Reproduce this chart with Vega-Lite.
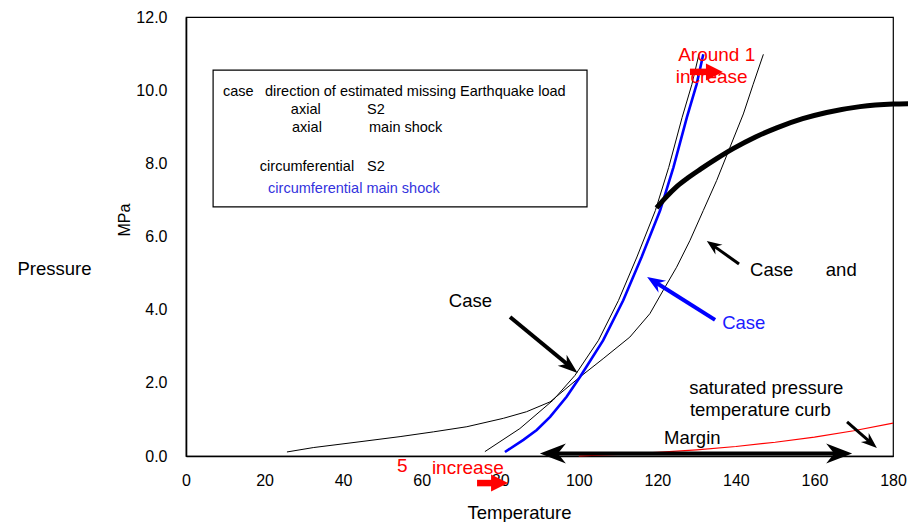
{
  "$schema": "https://vega.github.io/schema/vega-lite/v6.json",
  "width": 707,
  "height": 439,
  "autosize": "none",
  "padding": {"left": 186, "top": 17, "right": 15, "bottom": 66},
  "background": "white",
  "config": {
    "view": {"stroke": "#000", "strokeWidth": 1.2},
    "font": "Liberation Sans",
    "axis": {
      "labelFont": "Liberation Sans", "labelFontSize": 16, "labelColor": "#000",
      "titleFont": "Liberation Sans", "titleFontSize": 18.5, "titleFontWeight": "normal", "titleColor": "#000",
      "ticks": false, "grid": false, "domainColor": "#000", "domainWidth": 1.6
    }
  },
  "datasets": {
    "curves": [
      {"series": "A", "T": 25.7, "P": 0.11}, {"series": "A", "T": 32.4, "P": 0.23}, {"series": "A", "T": 44.3, "P": 0.39},
      {"series": "A", "T": 54.5, "P": 0.53}, {"series": "A", "T": 63.0, "P": 0.66}, {"series": "A", "T": 71.5, "P": 0.80},
      {"series": "A", "T": 80.8, "P": 1.03}, {"series": "A", "T": 86.7, "P": 1.21}, {"series": "A", "T": 92.7, "P": 1.48},
      {"series": "A", "T": 100.3, "P": 2.16}, {"series": "A", "T": 106.2, "P": 2.66}, {"series": "A", "T": 113.0, "P": 3.25},
      {"series": "A", "T": 118.1, "P": 3.89}, {"series": "A", "T": 121.5, "P": 4.53}, {"series": "A", "T": 124.9, "P": 5.16},
      {"series": "A", "T": 128.3, "P": 5.89}, {"series": "A", "T": 131.7, "P": 6.71}, {"series": "A", "T": 135.1, "P": 7.53},
      {"series": "A", "T": 138.5, "P": 8.44}, {"series": "A", "T": 141.9, "P": 9.35}, {"series": "A", "T": 144.4, "P": 10.16},
      {"series": "A", "T": 147.0, "P": 10.98},
      {"series": "B", "T": 76.1, "P": 0.12}, {"series": "B", "T": 85.0, "P": 0.75}, {"series": "B", "T": 93.5, "P": 1.53},
      {"series": "B", "T": 99.0, "P": 2.20}, {"series": "B", "T": 105.0, "P": 3.16}, {"series": "B", "T": 110.1, "P": 4.25},
      {"series": "B", "T": 114.8, "P": 5.44}, {"series": "B", "T": 119.5, "P": 6.71}, {"series": "B", "T": 122.9, "P": 7.89},
      {"series": "B", "T": 126.3, "P": 9.25}, {"series": "B", "T": 128.8, "P": 10.16}, {"series": "B", "T": 130.6, "P": 10.98},
      {"series": "blue", "T": 81.2, "P": 0.11}, {"series": "blue", "T": 85.9, "P": 0.44}, {"series": "blue", "T": 89.3, "P": 0.71},
      {"series": "blue", "T": 92.7, "P": 1.07}, {"series": "blue", "T": 96.9, "P": 1.62}, {"series": "blue", "T": 100.3, "P": 2.16},
      {"series": "blue", "T": 106.2, "P": 3.16}, {"series": "blue", "T": 111.3, "P": 4.25}, {"series": "blue", "T": 116.0, "P": 5.44},
      {"series": "blue", "T": 120.7, "P": 6.71}, {"series": "blue", "T": 124.1, "P": 7.89}, {"series": "blue", "T": 127.5, "P": 9.25},
      {"series": "blue", "T": 130.0, "P": 10.16}, {"series": "blue", "T": 131.7, "P": 10.98},
      {"series": "thick", "T": 119.8, "P": 6.78}, {"series": "thick", "T": 122.0, "P": 7.05}, {"series": "thick", "T": 125.0, "P": 7.37},
      {"series": "thick", "T": 128.0, "P": 7.62}, {"series": "thick", "T": 131.0, "P": 7.84}, {"series": "thick", "T": 135.0, "P": 8.12},
      {"series": "thick", "T": 139.3, "P": 8.40}, {"series": "thick", "T": 145.0, "P": 8.72}, {"series": "thick", "T": 150.4, "P": 8.97},
      {"series": "thick", "T": 157.0, "P": 9.22}, {"series": "thick", "T": 163.1, "P": 9.39}, {"series": "thick", "T": 171.6, "P": 9.55},
      {"series": "thick", "T": 180.0, "P": 9.62}, {"series": "thick", "T": 184.5, "P": 9.63},
      {"series": "sat", "T": 100, "P": 0.0}, {"series": "sat", "T": 105, "P": 0.02}, {"series": "sat", "T": 110, "P": 0.043},
      {"series": "sat", "T": 120, "P": 0.099}, {"series": "sat", "T": 130, "P": 0.17}, {"series": "sat", "T": 140, "P": 0.26},
      {"series": "sat", "T": 150, "P": 0.376}, {"series": "sat", "T": 160, "P": 0.517}, {"series": "sat", "T": 170, "P": 0.69},
      {"series": "sat", "T": 180, "P": 0.90}
    ],
    "shafts": [
      {"id": "caseA", "x": 82.5, "y": 3.80, "x2": 97.4, "y2": 2.48},
      {"id": "caseB", "x": 134.7, "y": 3.72, "x2": 119.5, "y2": 4.75},
      {"id": "caseC", "x": 140.8, "y": 5.25, "x2": 134.5, "y2": 5.73},
      {"id": "sat", "x": 168.3, "y": 0.93, "x2": 174.2, "y2": 0.38},
      {"id": "margin", "x": 94.1, "y": 0.07, "x2": 165.6, "y2": 0.07},
      {"id": "redTop", "x": 128.3, "y": 10.50, "x2": 133.7, "y2": 10.50},
      {"id": "redBot", "x": 74.1, "y": -0.74, "x2": 79.4, "y2": -0.74}
    ],
    "heads": [
      {"id": "caseA", "x": 99.7, "y": 2.27},
      {"id": "caseB", "x": 117.4, "y": 4.89},
      {"id": "caseC", "x": 132.6, "y": 5.88},
      {"id": "sat", "x": 175.9, "y": 0.22},
      {"id": "marginL", "x": 90.1, "y": 0.07},
      {"id": "marginR", "x": 169.6, "y": 0.07},
      {"id": "redTop", "x": 136.7, "y": 10.50},
      {"id": "redBot", "x": 82.0, "y": -0.74}
    ]
  },
  "layer": [
    {
      "data": {"values": [{"x": 6.9, "x2": 102.1, "y": 10.55, "y2": 6.81}]},
      "mark": {"type": "rect", "fill": "white", "stroke": "#000", "strokeWidth": 1.2},
      "encoding": {
        "x": {"field": "x", "type": "quantitative", "scale": {"domain": [0, 180], "nice": false, "zero": false},
          "axis": {"values": [0, 20, 40, 60, 80, 100, 120, 140, 160, 180], "labelPadding": 16, "labelFlush": false,
            "title": "Temperature", "titleX": 333, "titleY": 56, "titleAlign": "center", "titleBaseline": "middle"}},
        "x2": {"field": "x2"},
        "y": {"field": "y", "type": "quantitative", "scale": {"domain": [0, 12], "nice": false, "zero": false},
          "axis": {"values": [0, 2, 4, 6, 8, 10, 12], "format": ".1f", "labelPadding": 19, "labelFlush": false,
            "title": "Pressure", "titleAngle": 0, "titleX": -132, "titleY": 251, "titleAlign": "center", "titleBaseline": "middle"}},
        "y2": {"field": "y2"}
      }
    },
    {
      "data": {"name": "curves"},
      "transform": [{"filter": "datum.series === 'sat'"}],
      "mark": {"type": "line", "color": "#ff0000", "strokeWidth": 1.2},
      "encoding": {"x": {"field": "T", "type": "quantitative"}, "y": {"field": "P", "type": "quantitative"}}
    },
    {
      "data": {"name": "curves"},
      "transform": [{"filter": "datum.series === 'A' || datum.series === 'B'"}],
      "mark": {"type": "line", "color": "#000", "strokeWidth": 1},
      "encoding": {"x": {"field": "T", "type": "quantitative"}, "y": {"field": "P", "type": "quantitative"}, "detail": {"field": "series"}}
    },
    {
      "data": {"name": "curves"},
      "transform": [{"filter": "datum.series === 'blue'"}],
      "mark": {"type": "line", "color": "#0000ff", "strokeWidth": 2.6},
      "encoding": {"x": {"field": "T", "type": "quantitative"}, "y": {"field": "P", "type": "quantitative"}}
    },
    {
      "data": {"name": "curves"},
      "transform": [{"filter": "datum.series === 'thick'"}],
      "mark": {"type": "line", "color": "#000", "strokeWidth": 5, "interpolate": "monotone"},
      "encoding": {"x": {"field": "T", "type": "quantitative"}, "y": {"field": "P", "type": "quantitative"}}
    },
    {
      "data": {"name": "shafts"},
      "transform": [{"filter": {"field": "id", "oneOf": ["caseA", "caseB", "margin"]}}],
      "mark": {"type": "rule", "strokeWidth": 4},
      "encoding": {
        "x": {"field": "x", "type": "quantitative"}, "y": {"field": "y", "type": "quantitative"},
        "x2": {"field": "x2"}, "y2": {"field": "y2"},
        "color": {"field": "id", "type": "nominal", "legend": null,
          "scale": {"domain": ["caseA", "caseB", "caseC", "sat", "margin", "marginL", "marginR", "redTop", "redBot"],
            "range": ["#000", "#0000ff", "#000", "#000", "#000", "#000", "#000", "#ff0000", "#ff0000"]}}
      }
    },
    {
      "data": {"name": "shafts"},
      "transform": [{"filter": {"field": "id", "oneOf": ["caseC", "sat"]}}],
      "mark": {"type": "rule", "strokeWidth": 3},
      "encoding": {
        "x": {"field": "x", "type": "quantitative"}, "y": {"field": "y", "type": "quantitative"},
        "x2": {"field": "x2"}, "y2": {"field": "y2"},
        "color": {"field": "id", "type": "nominal", "legend": null}
      }
    },
    {
      "data": {"name": "shafts"},
      "transform": [{"filter": {"field": "id", "oneOf": ["redTop", "redBot"]}}],
      "mark": {"type": "rule", "strokeWidth": 6.5},
      "encoding": {
        "x": {"field": "x", "type": "quantitative"}, "y": {"field": "y", "type": "quantitative"},
        "x2": {"field": "x2"}, "y2": {"field": "y2"},
        "color": {"field": "id", "type": "nominal", "legend": null}
      }
    },
    {
      "data": {"name": "heads"},
      "mark": {"type": "point", "filled": true, "size": 4, "opacity": 1, "strokeWidth": 0},
      "encoding": {
        "x": {"field": "x", "type": "quantitative"}, "y": {"field": "y", "type": "quantitative"},
        "color": {"field": "id", "type": "nominal", "legend": null},
        "shape": {"field": "id", "type": "nominal", "legend": null,
          "scale": {"domain": ["caseA", "caseB", "caseC", "sat", "marginL", "marginR", "redTop", "redBot"],
            "range": [
              "M0,0L-10.98,-18.12L-10.8,-8.91L-19.88,-7.32Z",
              "M0,0L11.47,15.54L10.14,6.41L18.96,3.7Z",
              "M0,0L8.68,13.62L8.12,5.84L15.68,3.88Z",
              "M0,0L-8.16,-15.02L-8.31,-7.2L-16.02,-5.94Z",
              "M0,0L26,-10L18,0L26,10Z",
              "M0,0L-26,-10L-18,0L-26,10Z",
              "M0,0L-17,-8.5L-17,8.5Z",
              "M0,0L-17,-8.5L-17,8.5Z"
            ]}}
      }
    },
    {
      "data": {"values": [
        {"t": "case", "x": 9.4, "y": 9.96},
        {"t": "direction of estimated missing Earthquake load", "x": 20.1, "y": 9.96},
        {"t": "axial", "x": 26.7, "y": 9.46},
        {"t": "S2", "x": 46.1, "y": 9.46},
        {"t": "axial", "x": 27.0, "y": 8.97},
        {"t": "main shock", "x": 46.6, "y": 8.97},
        {"t": "circumferential", "x": 18.8, "y": 7.90},
        {"t": "S2", "x": 46.1, "y": 7.90}
      ]},
      "mark": {"type": "text", "align": "left", "baseline": "middle", "fontSize": 14.5, "font": "Liberation Sans", "color": "#000"},
      "encoding": {"x": {"field": "x", "type": "quantitative"}, "y": {"field": "y", "type": "quantitative"}, "text": {"field": "t"}}
    },
    {
      "data": {"values": [{"t": "circumferential main shock", "x": 20.9, "y": 7.30}]},
      "mark": {"type": "text", "align": "left", "baseline": "middle", "fontSize": 14.5, "font": "Liberation Sans", "color": "#3333dd"},
      "encoding": {"x": {"field": "x", "type": "quantitative"}, "y": {"field": "y", "type": "quantitative"}, "text": {"field": "t"}}
    },
    {
      "data": {"values": [
        {"t": "Case", "x": 66.9, "y": 4.24},
        {"t": "Case", "x": 143.6, "y": 5.08},
        {"t": "and", "x": 162.9, "y": 5.08},
        {"t": "saturated pressure", "x": 128.1, "y": 1.86},
        {"t": "temperature curb", "x": 128.3, "y": 1.26},
        {"t": "Margin", "x": 121.7, "y": 0.49}
      ]},
      "mark": {"type": "text", "align": "left", "baseline": "middle", "fontSize": 18.5, "font": "Liberation Sans", "color": "#000"},
      "encoding": {"x": {"field": "x", "type": "quantitative"}, "y": {"field": "y", "type": "quantitative"}, "text": {"field": "t"}}
    },
    {
      "data": {"values": [{"t": "Case", "x": 136.5, "y": 3.64}]},
      "mark": {"type": "text", "align": "left", "baseline": "middle", "fontSize": 18.5, "font": "Liberation Sans", "color": "#1a1aff"},
      "encoding": {"x": {"field": "x", "type": "quantitative"}, "y": {"field": "y", "type": "quantitative"}, "text": {"field": "t"}}
    },
    {
      "data": {"values": [
        {"t": "Around 1", "x": 125.3, "y": 10.96},
        {"t": "increase", "x": 124.7, "y": 10.36},
        {"t": "5", "x": 53.7, "y": -0.27},
        {"t": "increase", "x": 62.6, "y": -0.33}
      ]},
      "mark": {"type": "text", "align": "left", "baseline": "middle", "fontSize": 19, "font": "Liberation Sans", "color": "#ff0000"},
      "encoding": {"x": {"field": "x", "type": "quantitative"}, "y": {"field": "y", "type": "quantitative"}, "text": {"field": "t"}}
    },
    {
      "data": {"values": [{"t": "MPa", "x": -15.5, "y": 6.45}]},
      "mark": {"type": "text", "align": "center", "baseline": "middle", "angle": 270, "fontSize": 16, "font": "Liberation Sans", "color": "#000"},
      "encoding": {"x": {"field": "x", "type": "quantitative"}, "y": {"field": "y", "type": "quantitative"}, "text": {"field": "t"}}
    }
  ]
}
